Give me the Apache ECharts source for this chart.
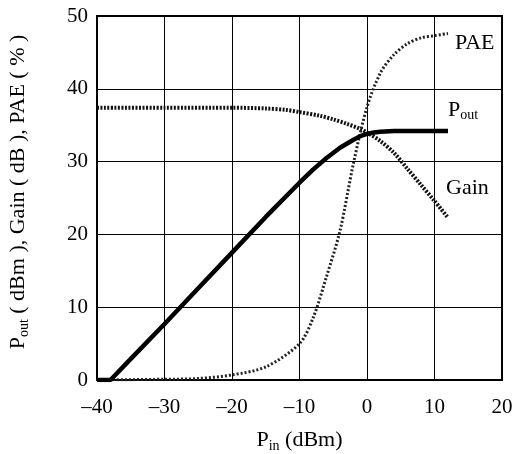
<!DOCTYPE html>
<html>
<head>
<meta charset="utf-8">
<script src="https://cdn.jsdelivr.net/npm/echarts@6/dist/echarts.min.js"></script>
<style>
  html, body { margin: 0; padding: 0; background: #fff; }
  #chart { width: 513px; height: 454px; }
</style>
</head>
<body>
<div id="chart"></div>
<script>
// Amplifier sweep: Pin (dBm) vs Pout, Gain, PAE
const pout = [[-40, 0], [-38, 0], [-35, 2.9], [-30, 7.7], [-25, 12.6], [-20, 17.5], [-15, 22.4], [-10, 27.1], [-8, 28.9], [-6, 30.5], [-4, 31.9], [-2, 33.0], [-1, 33.5], [0, 33.8], [1, 34.0], [2, 34.1], [4, 34.2], [8, 34.2], [12, 34.2]]
const gain = [[-40, 37.4], [-30, 37.4], [-20, 37.4], [-15, 37.3], [-12, 37.1], [-10, 36.8], [-7, 36.3], [-5, 35.8], [-3, 35.2], [-1, 34.5], [0, 34.0], [2, 32.8], [4, 31.2], [6, 29.0], [8, 26.8], [10, 24.6], [12, 22.3]]
const pae = [[-40, 0], [-30, 0.1], [-25, 0.2], [-20, 0.7], [-15, 1.8], [-10, 5.0], [-8, 8.5], [-6, 14.2], [-4, 20.5], [-2, 29.8], [0, 37.5], [2, 42.2], [4, 44.7], [6, 46.2], [8, 47.0], [10, 47.3], [12, 47.6]]
const xTicks = [-40, -30, -20, -10, 0, 10, 20]
const yTicks = [0, 10, 20, 30, 40, 50]

const font = "'Liberation Serif', 'DejaVu Serif', serif"
const chart = echarts.init(document.getElementById("chart"), null, { renderer: "canvas" })

const subStyle = { fontFamily: font, fontSize: 14, color: "#000", padding: [11, 0, 0, 0] }
const axisCommon = {
  axisLine: { show: true, onZero: false, lineStyle: { color: "#000", width: 2 } },
  axisTick: { show: false },
  splitLine: { show: true, lineStyle: { color: "#000", width: 1 } },
}

chart.setOption({
  backgroundColor: "#fff",
  animation: false,
  grid: {
    left: 97, right: 11, top: 16, bottom: 74,
    containLabel: false, outerBoundsMode: "none",
    show: true, borderColor: "#000", borderWidth: 2,
  },
  xAxis: {
    type: "value",
    min: xTicks[0], max: xTicks[xTicks.length - 1], interval: 10,
    ...axisCommon,
    axisLabel: {
      color: "#000", fontFamily: font, fontSize: 21, margin: 17,
      formatter: (v) => String(v).replace("-", "\u2013"),
    },
    name: "P{s|in} (dBm)",
    nameLocation: "middle",
    nameGap: 48,
    nameTextStyle: { color: "#000", fontFamily: font, fontSize: 22, rich: { s: subStyle } },
  },
  yAxis: {
    type: "value",
    min: yTicks[0], max: yTicks[yTicks.length - 1], interval: 10,
    ...axisCommon,
    axisLabel: { color: "#000", fontFamily: font, fontSize: 21, margin: 9 },
    name: "P{s|out} ( dBm ), Gain ( dB ), PAE ( % )",
    nameLocation: "middle",
    nameGap: 66,
    nameTextStyle: {
      color: "#000", fontFamily: font, fontSize: 22, padding: [0, 0, 0, 12],
      rich: { s: subStyle },
    },
  },
  series: [
    {
      name: "Pout", type: "line", data: pout, symbol: "none",
      lineStyle: { color: "#000", width: 4.5 },
      endLabel: {
        show: true, formatter: "P{s|out}", offset: [-8, -21],
        color: "#000", fontFamily: font, fontSize: 22, rich: { s: subStyle },
      },
      z: 4,
    },
    {
      name: "Gain", type: "line", data: gain, smooth: 0.3, symbol: "none",
      lineStyle: { color: "#111", width: 4, type: [2, 1.5] },
      endLabel: { show: true, formatter: "Gain", offset: [-10, -29], color: "#000", fontFamily: font, fontSize: 22 },
      z: 3,
    },
    {
      name: "PAE", type: "line", data: pae, smooth: 0.3, symbol: "none",
      lineStyle: { color: "#222", width: 3, type: [2, 2] },
      endLabel: { show: true, formatter: "PAE", offset: [-1, 10], color: "#000", fontFamily: font, fontSize: 22 },
      z: 3,
    },
  ],
})
</script>
</body>
</html>
